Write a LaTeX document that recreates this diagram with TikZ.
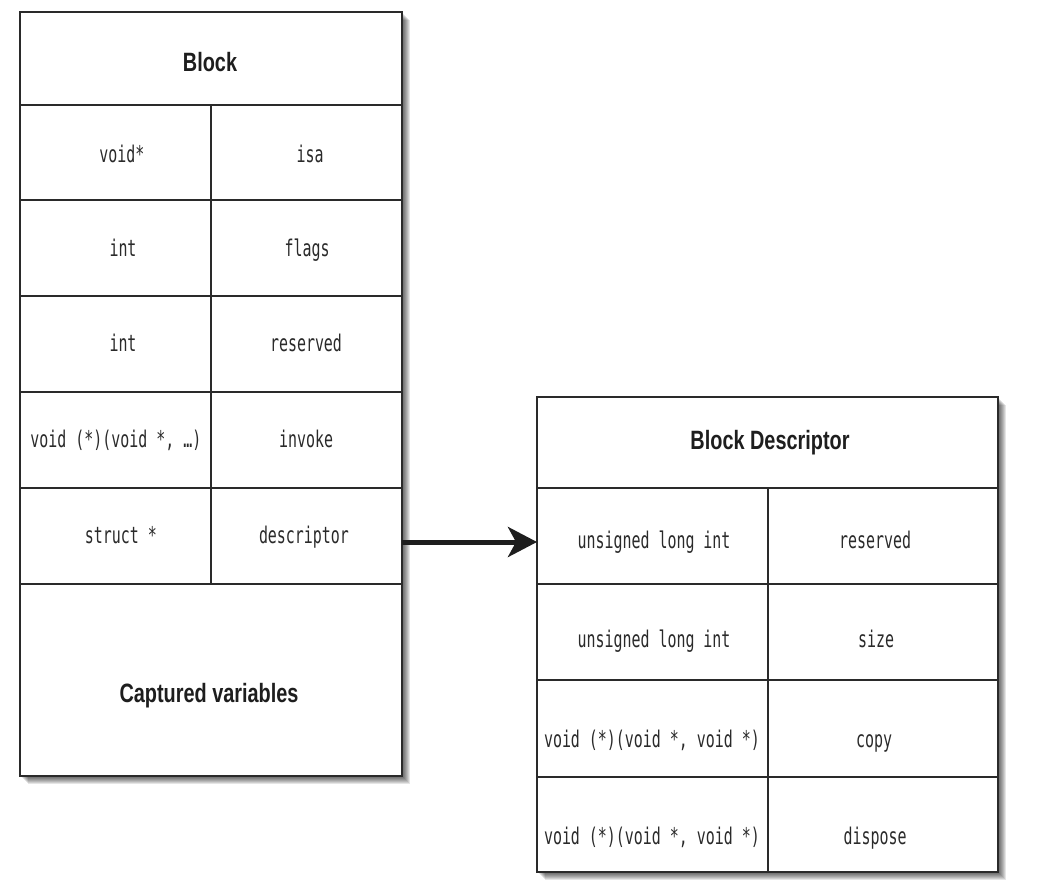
\documentclass[tikz,border=0pt]{standalone}
\usepackage{fontspec}
\newfontfamily\hdrfont{Liberation Sans}[FakeStretch=0.75]
\newfontfamily\codefont{DejaVu Sans Mono}[FakeStretch=0.65]
\usetikzlibrary{arrows.meta}
\definecolor{ink}{HTML}{1E1E1E}
\definecolor{codeink}{HTML}{2A2A2A}
\definecolor{rulec}{HTML}{2A2A2A}
\begin{document}
\begin{tikzpicture}[x=1pt,y=-1pt,
  tablebox/.style={draw=rulec, line width=2.2pt, fill=white, inner sep=0pt, outer sep=0pt, anchor=north west},
  gridline/.style={draw=rulec, line width=2pt},
  hdr/.style={font=\hdrfont\bfseries\fontsize{26.5}{30}\selectfont, text=ink, anchor=base, inner sep=0pt},
  code/.style={font=\codefont\fontsize{23}{27}\selectfont, text=codeink, anchor=base, inner sep=0pt},
  link/.style={draw=ink, line width=5pt, -{Stealth[length=29pt,width=30pt,inset=8pt]}},
  shadowlayer/.style={fill=black, opacity=0.1}
]
\fill[white] (0,0) rectangle (1038,891);
\useasboundingbox (0,0) rectangle (1038,891);

% shadows
\foreach \s in {1,...,8} {
  \fill[shadowlayer] (20+\s,12+\s) rectangle (402+\s,776+\s);
  \fill[shadowlayer] (537+\s,397+\s) rectangle (998+\s,872+\s);
}

% Block table
\node[tablebox, minimum width=382pt, minimum height=764pt] (block) at (20,12) {};
\foreach \yy in {105,200,296,392,488,584} {
  \draw[gridline] (20,\yy) -- (402,\yy);
}
\draw[gridline] (211,105) -- (211,584);

\node[hdr] (blockT) at (210,71) {Block};
\node[code] (t1a) at (122,162) {void*};
\node[code] (t1b) at (310,162) {isa};
\node[code] (t2a) at (123,256) {int};
\node[code] (t2b) at (307,256) {flags};
\node[code] (t3a) at (123,351) {int};
\node[code] (t3b) at (306,351) {reserved};
\node[code] (t4a) at (116,447) {void (*)(void *, …)};
\node[code] (t4b) at (306,447) {invoke};
\node[code] (t5a) at (121,543) {struct *};
\node[code] (t5b) at (304,543) {descriptor};
\node[hdr] (capT) at (209,702) {Captured variables};

% Block Descriptor table
\node[tablebox, minimum width=461pt, minimum height=475pt] (desc) at (537,397) {};
\foreach \yy in {488,584,680,777} {
  \draw[gridline] (537,\yy) -- (998,\yy);
}
\draw[gridline] (768,488) -- (768,872);

\node[hdr] (descT) at (770,449) {Block Descriptor};
\node[code] (d1a) at (654,548) {unsigned long int};
\node[code] (d1b) at (875,548) {reserved};
\node[code] (d2a) at (654,647) {unsigned long int};
\node[code] (d2b) at (876,647) {size};
\node[code] (d3a) at (652,747) {void (*)(void *, void *)};
\node[code] (d3b) at (874,747) {copy};
\node[code] (d4a) at (652,844) {void (*)(void *, void *)};
\node[code] (d4b) at (875,844) {dispose};

% connector
\coordinate (arrowy) at (0,542);
\draw[link] (block.east |- arrowy) -- (desc.west |- arrowy);
\end{tikzpicture}
\end{document}
